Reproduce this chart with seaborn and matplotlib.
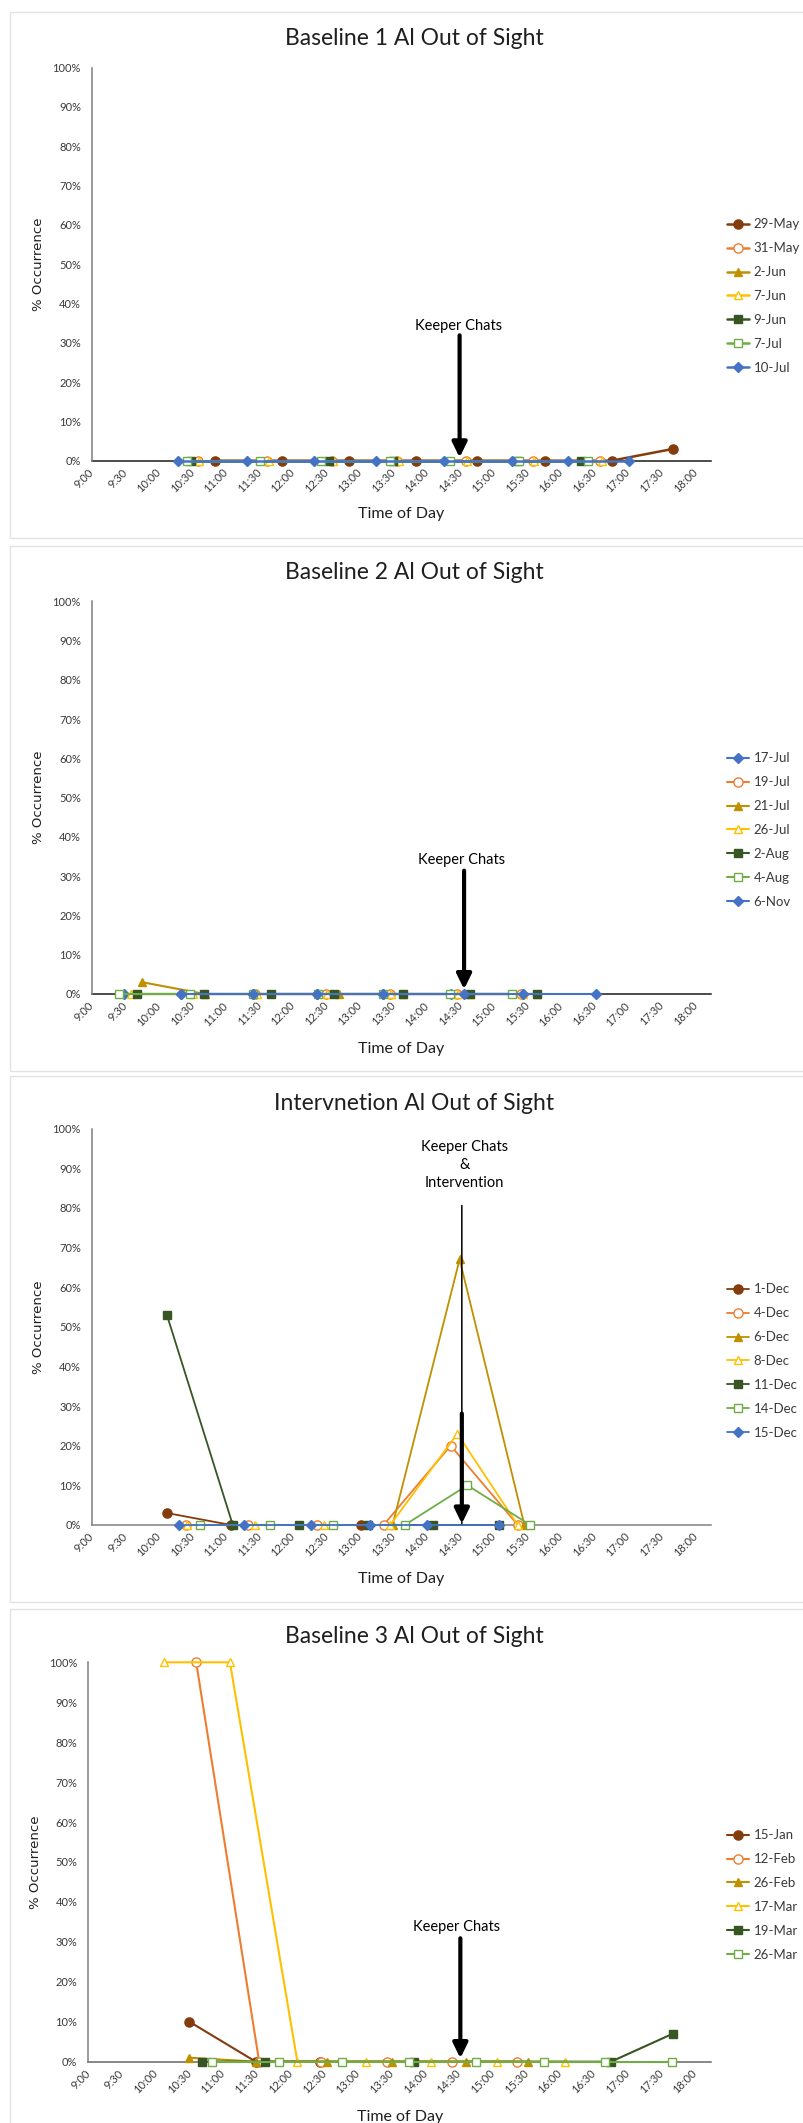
import matplotlib
matplotlib.use("Agg")
import matplotlib.pyplot as plt
from matplotlib.patches import Rectangle
import seaborn as sns

sns.set_theme(style="white")
plt.rcParams["font.family"] = ["Lato", "DejaVu Sans"]

W, H = 804, 2123

# ---------------- series colours / marker styles ----------------
BROWN, ORANGE, GOLD, YELLOW = "#843C0C", "#ED7D31", "#BF9000", "#FFC000"
DKGREEN, LTGREEN, BLUE = "#375623", "#70AD47", "#4472C4"

# ---------------- Baseline 1 ----------------
b1_labels = ["29-May", "31-May", "2-Jun", "7-Jun", "9-Jun", "7-Jul", "10-Jul"]
b1_may29_t = ["10:50", "11:50", "12:50", "13:50", "14:45", "15:45", "16:45", "17:40"]
b1_may29_v = [0, 0, 0, 0, 0, 0, 0, 3]
b1_may31_t = ["10:35", "11:37", "12:35", "13:33", "14:35", "15:35", "16:35"]
b1_may31_v = [0, 0, 0, 0, 0, 0, 0]
b1_jun2_t = []
b1_jun2_v = []
b1_jun7_t = ["10:36", "11:38", "12:36", "13:35", "14:36", "15:36", "16:36"]
b1_jun7_v = [0, 0, 0, 0, 0, 0, 0]
b1_jun9_t = ["10:29", "12:32", "13:29", "15:20", "16:18"]
b1_jun9_v = [0, 0, 0, 0, 0]
b1_jul7_t = ["10:25", "11:30", "12:25", "13:27", "14:20", "15:22", "16:24"]
b1_jul7_v = [0, 0, 0, 0, 0, 0, 0]
b1_jul10_t = ["10:17", "11:19", "12:19", "13:14", "14:15", "15:16", "16:06", "17:01"]
b1_jul10_v = [0, 0, 0, 0, 0, 0, 0, 0]

# ---------------- Baseline 2 ----------------
b2_labels = ["17-Jul", "19-Jul", "21-Jul", "26-Jul", "2-Aug", "4-Aug", "6-Nov"]
b2_jul17_t = ["9:29", "10:20", "11:24", "12:21", "13:20", "14:21", "15:26"]
b2_jul17_v = [0, 0, 0, 0, 0, 0, 0]
b2_jul19_t = ["11:26", "12:29", "13:27", "14:27", "15:24"]
b2_jul19_v = [0, 0, 0, 0, 0]
b2_jul21_t = ["9:45", "10:41", "12:41", "13:38", "14:38", "15:38"]
b2_jul21_v = [3, 0, 0, 0, 0, 0]
b2_jul26_t = ["9:35", "10:30", "11:28", "12:30", "13:28", "14:28", "15:26"]
b2_jul26_v = [0, 0, 0, 0, 0, 0, 0]
b2_aug2_t = ["9:40", "10:40", "11:40", "12:37", "13:38", "14:38", "15:38"]
b2_aug2_v = [0, 0, 0, 0, 0, 0, 0]
b2_aug4_t = ["9:24", "10:28", "11:24", "12:22", "13:20", "14:20", "15:16"]
b2_aug4_v = [0, 0, 0, 0, 0, 0, 0]
b2_nov6_t = ["10:20", "11:24", "12:21", "13:20", "14:33", "15:26", "16:31"]
b2_nov6_v = [0, 0, 0, 0, 0, 0, 0]

# ---------------- Intervention ----------------
iv_labels = ["1-Dec", "4-Dec", "6-Dec", "8-Dec", "11-Dec", "14-Dec", "15-Dec"]
iv_dec1_t = ["10:07", "11:04", "13:01"]
iv_dec1_v = [3, 0, 0]
iv_dec4_t = ["10:24", "11:20", "12:21", "13:21", "14:21", "15:21"]
iv_dec4_v = [0, 0, 0, 0, 20, 0]
iv_dec6_t = ["13:29", "14:29", "15:27"]
iv_dec6_v = [0, 67, 0]
iv_dec8_t = ["10:25", "11:26", "12:28", "13:27", "14:27", "15:21"]
iv_dec8_v = [0, 0, 0, 0, 23, 0]
iv_dec11_t = ["10:07", "11:06", "12:05", "13:07", "14:05", "15:04"]
iv_dec11_v = [53, 0, 0, 0, 0, 0]
iv_dec14_t = ["10:37", "11:39", "12:36", "13:40", "14:36", "15:32"]
iv_dec14_v = [0, 0, 0, 0, 10, 0]
iv_dec15_t = ["10:18", "11:16", "12:16", "13:09", "14:00", "15:04"]
iv_dec15_v = [0, 0, 0, 0, 0, 0]

# ---------------- Baseline 3 ----------------
b3_labels = ["15-Jan", "12-Feb", "26-Feb", "17-Mar", "19-Mar", "26-Mar"]
b3_jan15_t = ["10:30", "11:29", "12:26"]
b3_jan15_v = [10, 0, 0]
b3_feb12_t = ["10:36", "11:32", "12:27", "13:26", "14:24", "15:21"]
b3_feb12_v = [100, 0, 0, 0, 0, 0]
b3_feb26_t = ["10:30", "11:29", "12:32", "13:30", "14:36", "15:31"]
b3_feb26_v = [1, 0, 0, 0, 0, 0]
b3_mar17_t = ["10:07", "11:06", "12:06", "13:07", "14:05", "15:04", "16:04"]
b3_mar17_v = [100, 100, 0, 0, 0, 0, 0]
b3_mar19_t = ["10:41", "11:37", "13:50", "16:45", "17:40"]
b3_mar19_v = [0, 0, 0, 0, 7]
b3_mar26_t = ["10:50", "11:50", "12:46", "13:45", "14:45", "15:45", "16:40", "17:39"]
b3_mar26_v = [0, 0, 0, 0, 0, 0, 0, 0]

y_ticks = [0, 10, 20, 30, 40, 50, 60, 70, 80, 90, 100]
x_tick_labels = ["9:00", "9:30", "10:00", "10:30", "11:00", "11:30", "12:00", "12:30",
                 "13:00", "13:30", "14:00", "14:30", "15:00", "15:30", "16:00", "16:30",
                 "17:00", "17:30", "18:00"]


def minutes(s):
    h, m = s.split(":")
    return int(h) * 60 + int(m)


# marker style per legend slot: (colour, marker, filled)
STYLE6 = [(BROWN, "o", True), (ORANGE, "o", False), (GOLD, "^", True),
          (YELLOW, "^", False), (DKGREEN, "s", True), (LTGREEN, "s", False)]
STYLE_B1 = STYLE6 + [(BLUE, "D", True)]
STYLE_B2 = [(BLUE, "D", True), (ORANGE, "o", False), (GOLD, "^", True),
            (YELLOW, "^", False), (DKGREEN, "s", True), (LTGREEN, "s", False),
            (BLUE, "D", True)]

panels = [
    dict(title="Baseline 1 Al Out of Sight", box=(92, 711, 67.7, 460.7),
         labels=b1_labels, styles=STYLE_B1,
         series=[(b1_may29_t, b1_may29_v), (b1_may31_t, b1_may31_v), (b1_jun2_t, b1_jun2_v),
                 (b1_jun7_t, b1_jun7_v), (b1_jun9_t, b1_jun9_v), (b1_jul7_t, b1_jul7_v),
                 (b1_jul10_t, b1_jul10_v)],
         title_y=38.5, xlabel_y=514, leg_y=296, bottom_col="#1a1a1a", lw=1.8,
         note="Keeper Chats", note_x="14:28", note_y=34.2, arrow_x="14:29",
         arrow=(31.9, 0.8)),
    dict(title="Baseline 2 Al Out of Sight", box=(92, 711, 601.3, 994),
         labels=b2_labels, styles=STYLE_B2,
         series=[(b2_jul17_t, b2_jul17_v), (b2_jul19_t, b2_jul19_v), (b2_jul21_t, b2_jul21_v),
                 (b2_jul26_t, b2_jul26_v), (b2_aug2_t, b2_aug2_v), (b2_aug4_t, b2_aug4_v),
                 (b2_nov6_t, b2_nov6_v)],
         title_y=572.7, xlabel_y=1048.6, leg_y=830, bottom_col="#1a1a1a", lw=1.5,
         note="Keeper Chats", note_x="14:31", note_y=34.2, arrow_x="14:33",
         arrow=(31.4, 1.2)),
    dict(title="Intervnetion Al Out of Sight", box=(92, 711, 1128.6, 1524.9),
         labels=iv_labels, styles=STYLE_B1,
         series=[(iv_dec1_t, iv_dec1_v), (iv_dec4_t, iv_dec4_v), (iv_dec6_t, iv_dec6_v),
                 (iv_dec8_t, iv_dec8_v), (iv_dec11_t, iv_dec11_v), (iv_dec14_t, iv_dec14_v),
                 (iv_dec15_t, iv_dec15_v)],
         title_y=1103.8, xlabel_y=1579, leg_y=1361, bottom_col="#808080", lw=1.3,
         note="Keeper Chats\n&\nIntervention", note_x="14:33", note_y=90.8,
         arrow_x="14:31", arrow=(28.1, 0.3), thin=(80.6, 0.3)),
    dict(title="Baseline 3 Al Out of Sight", box=(88.3, 711, 1662.3, 2061.7),
         labels=b3_labels, styles=STYLE6,
         series=[(b3_jan15_t, b3_jan15_v), (b3_feb12_t, b3_feb12_v), (b3_feb26_t, b3_feb26_v),
                 (b3_mar17_t, b3_mar17_v), (b3_mar19_t, b3_mar19_v), (b3_mar26_t, b3_mar26_v)],
         title_y=1636.7, xlabel_y=2117, leg_y=1895, bottom_col="#666666", lw=1.5,
         note="Keeper Chats", note_x="14:28", note_y=33.8, arrow_x="14:31",
         arrow=(30.9, 0.85)),
]

fig = plt.figure(figsize=(W / 100, H / 100), dpi=100)

# light chart frames
for top, bottom in [(12, 538), (546, 1071), (1076, 1602), (1609, 2135)]:
    fig.add_artist(Rectangle((10 / W, 1 - bottom / H), 1.0, (bottom - top) / H,
                             transform=fig.transFigure, fill=False,
                             edgecolor="#e2e2e2", lw=1.0))

TXT = "#3a3a3a"
for p in panels:
    left, right, top, bottom = p["box"]
    ax = fig.add_axes([left / W, 1 - bottom / H, (right - left) / W, (bottom - top) / H])
    ax.set_facecolor("none")

    for (times, vals), lab, (col, mk, filled) in zip(p["series"], p["labels"], p["styles"]):
        ms = 6.6 if mk == "o" else (5.4 if mk == "D" else 6.2)
        kw = dict(color=col, marker=mk, markersize=ms, lw=p["lw"],
                  markerfacecolor=col if filled else "white",
                  markeredgecolor=col, markeredgewidth=1.0, clip_on=False, label=lab)
        if times:
            sns.lineplot(x=[minutes(t) for t in times], y=vals, ax=ax,
                         estimator=None, sort=False, **kw)
        else:
            ax.plot([], [], **kw)

    ax.set_xlim(540, 1094)
    ax.set_ylim(0, 100)
    ax.set_xticks([minutes(t) for t in x_tick_labels])
    ax.set_xticklabels(x_tick_labels, rotation=45, ha="right", va="center",
                       rotation_mode="anchor", fontsize=8, color=TXT)
    ax.set_yticks(y_ticks)
    ax.set_yticklabels([f"{v}%" for v in y_ticks], fontsize=8, color=TXT)
    ax.tick_params(axis="x", length=0, pad=7)
    ax.tick_params(axis="y", length=0, pad=8)
    ax.grid(False)
    for s in ("top", "right"):
        ax.spines[s].set_visible(False)
    ax.spines["left"].set_color("#7f7f7f")
    ax.spines["left"].set_linewidth(1.1)
    ax.spines["bottom"].set_color(p["bottom_col"])
    ax.spines["bottom"].set_linewidth(1.1)
    ax.spines["bottom"].set_zorder(0.5)

    # annotation arrow at the keeper chat time
    ax_x = minutes(p["arrow_x"])
    if "thin" in p:
        ax.annotate("", xy=(ax_x, p["thin"][1]), xytext=(ax_x, p["thin"][0]),
                    arrowprops=dict(arrowstyle="-", lw=1.1, color="black",
                                    shrinkA=0, shrinkB=0), zorder=10)
    ax.annotate("", xy=(ax_x, p["arrow"][1]), xytext=(ax_x, p["arrow"][0]),
                arrowprops=dict(arrowstyle="-|>,head_length=0.45,head_width=0.22",
                                mutation_scale=20, lw=3.0, color="black",
                                shrinkA=0, shrinkB=0), zorder=10)
    ax.text(minutes(p["note_x"]), p["note_y"], p["note"], ha="center", va="center",
            fontsize=10.5, color="black", linespacing=1.4, zorder=10)

    handles, labels = ax.get_legend_handles_labels()
    ax.legend(handles, labels, loc="center left",
              bbox_to_anchor=(727 / W, 1 - p["leg_y"] / H), bbox_transform=fig.transFigure,
              frameon=False, fontsize=9.5, handlelength=1.7, handletextpad=0.3,
              labelspacing=0.9, borderpad=0, borderaxespad=0, labelcolor=TXT)

    fig.text(414 / W, 1 - p["title_y"] / H, p["title"], ha="center", va="center",
             fontsize=16.5, color="#1f1f1f")
    fig.text((left + right) / 2 / W, 1 - p["xlabel_y"] / H, "Time of Day",
             ha="center", va="center", fontsize=11.5, color="#1f1f1f")
    fig.text((left - 53) / W, 1 - (top + bottom) / 2 / H, "% Occurrence",
             rotation=90, ha="center", va="center", fontsize=9.5, color="#1f1f1f",
             family=["DejaVu Sans"])

fig.savefig("out.png", dpi=100)
